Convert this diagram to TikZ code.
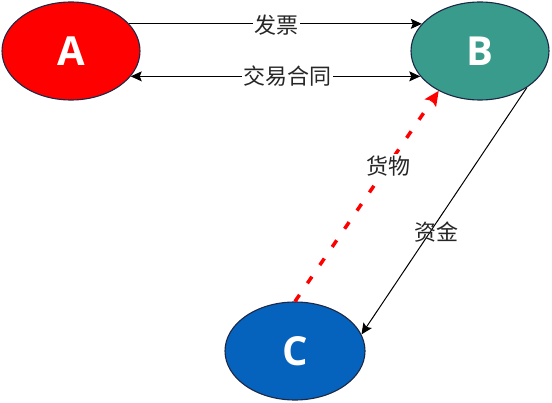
\documentclass[tikz,border=0pt]{standalone}
\usepackage{fontspec}
\setmainfont{Open Sans}
\newfontfamily\cjk{Noto Sans CJK SC}
\usetikzlibrary{arrows.meta,shapes.geometric}
\definecolor{cA}{RGB}{255,0,0}
\definecolor{cB}{RGB}{57,155,140}
\definecolor{cC}{RGB}{5,99,190}
\definecolor{edge}{RGB}{28,40,70}
\begin{document}
\begin{tikzpicture}[x=1pt,y=1pt,
  ell/.style={ellipse,draw=edge,line width=1.1pt,inner sep=0pt,minimum height=98pt,
    text=white,font=\fontsize{40}{40}\selectfont\bfseries},
  lbl/.style={font=\cjk\fontsize{22}{22}\selectfont,text=black!85,inner sep=1.5pt},
  conn/.style={line width=1pt,draw=black,-{Stealth[length=11pt,width=10pt,inset=2pt]}},
  goods/.style={line width=3.5pt,draw=red,dash pattern=on 8pt off 14pt,
    -{Stealth[length=15pt,width=14pt,inset=3pt,line width=0pt]}}]
\useasboundingbox (0,0) rectangle (552,402);
\node[ell,fill=cA,minimum width=138pt] (A) at (71,351) {A};
\node[ell,fill=cB,minimum width=138pt] (B) at (480,351) {B};
\node[ell,fill=cC,minimum width=140pt] (C) at (295,51) {C};
\draw[conn] (A.25) -- (B.155);
\draw[conn,{Stealth[length=11pt,width=10pt,inset=2pt]}-{Stealth[length=11pt,width=10pt,inset=2pt]}] (A.-23) -- (B.-157);
\node[lbl,fill=white] (l1) at (276,377) {发票};
\node[lbl,fill=white] (l2) at (287,326) {交易合同};
\draw[conn] (B.-38) -- (C.14);
\node[lbl] (l4) at (436,170) {资金};
\draw[goods] (C.north) -- (B.224);
\node[lbl,fill=white] (l3) at (388,236) {货物};
\end{tikzpicture}
\end{document}
